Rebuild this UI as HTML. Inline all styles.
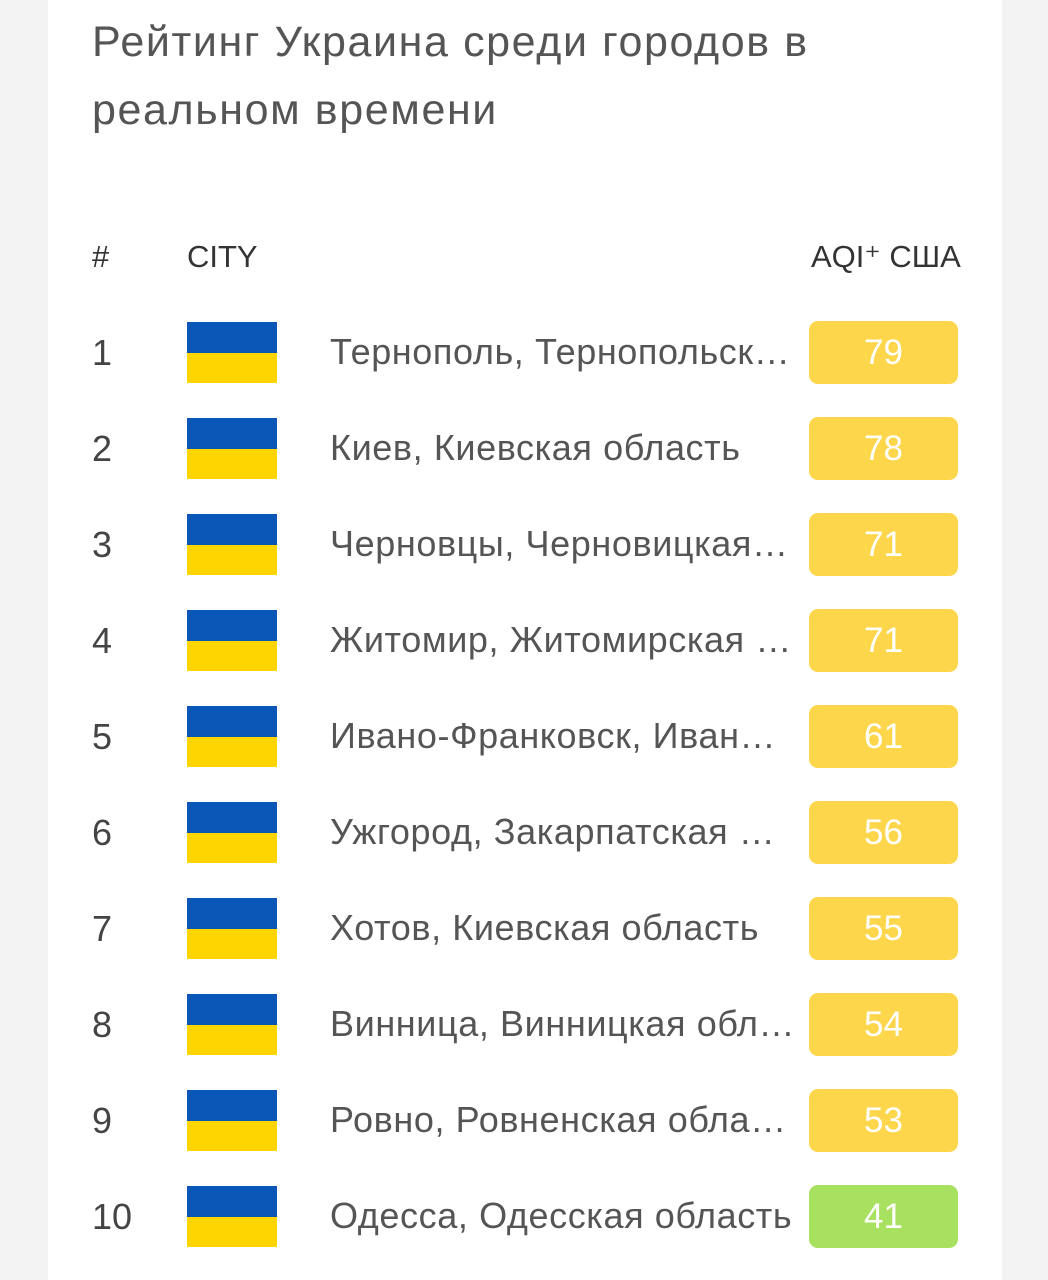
<!DOCTYPE html>
<html><head><meta charset="utf-8"><style>
body{margin:0;width:1048px;height:1280px;background:#f3f3f3;font-family:"Liberation Sans",sans-serif;position:relative;overflow:hidden}
.card{position:absolute;left:48px;top:0;width:954px;height:1280px;background:#fff}
.t{position:absolute;left:92px;font-size:43px;letter-spacing:1.6px;color:#555;white-space:nowrap;line-height:1}
.h{position:absolute;font-size:31px;color:#333;line-height:1;top:241px}
.row{position:absolute;left:0;width:1048px;height:64px}
.n{position:absolute;left:92px;top:14px;font-size:36px;color:#444;line-height:1}
.f{position:absolute;left:187px;top:1px;width:90px;height:61px}
.f i{display:block;height:50%;background:#0a57b8}.f b{display:block;height:50%;background:#ffd500}
.c{position:absolute;left:330px;top:13px;font-size:36px;letter-spacing:0.6px;color:#555;line-height:1;white-space:nowrap}
.a{position:absolute;left:809px;top:0;width:149px;height:63px;border-radius:9px;background:#fdd64b;color:#fff;font-size:35px;text-align:center;line-height:63px}
</style></head><body><div class="card"></div>
<div class="t" style="top:21px">Рейтинг Украина среди городов в</div>
<div class="t" style="top:89px">реальном времени</div>
<div class="h" style="left:92px">#</div><div class="h" style="left:187px">CITY</div><div class="h" style="left:811px">AQI⁺ США</div>
<div class="row" style="top:321px"><div class="n">1</div><div class="f"><i></i><b></b></div><div class="c">Тернополь, Тернопольск…</div><div class="a">79</div></div>
<div class="row" style="top:417px"><div class="n">2</div><div class="f"><i></i><b></b></div><div class="c">Киев, Киевская область</div><div class="a">78</div></div>
<div class="row" style="top:513px"><div class="n">3</div><div class="f"><i></i><b></b></div><div class="c">Черновцы, Черновицкая…</div><div class="a">71</div></div>
<div class="row" style="top:609px"><div class="n">4</div><div class="f"><i></i><b></b></div><div class="c">Житомир, Житомирская …</div><div class="a">71</div></div>
<div class="row" style="top:705px"><div class="n">5</div><div class="f"><i></i><b></b></div><div class="c">Ивано-Франковск, Иван…</div><div class="a">61</div></div>
<div class="row" style="top:801px"><div class="n">6</div><div class="f"><i></i><b></b></div><div class="c">Ужгород, Закарпатская …</div><div class="a">56</div></div>
<div class="row" style="top:897px"><div class="n">7</div><div class="f"><i></i><b></b></div><div class="c">Хотов, Киевская область</div><div class="a">55</div></div>
<div class="row" style="top:993px"><div class="n">8</div><div class="f"><i></i><b></b></div><div class="c">Винница, Винницкая обл…</div><div class="a">54</div></div>
<div class="row" style="top:1089px"><div class="n">9</div><div class="f"><i></i><b></b></div><div class="c">Ровно, Ровненская обла…</div><div class="a">53</div></div>
<div class="row" style="top:1185px"><div class="n">10</div><div class="f"><i></i><b></b></div><div class="c">Одесса, Одесская область</div><div class="a" style="background:#a8e05f">41</div></div>
</body></html>
